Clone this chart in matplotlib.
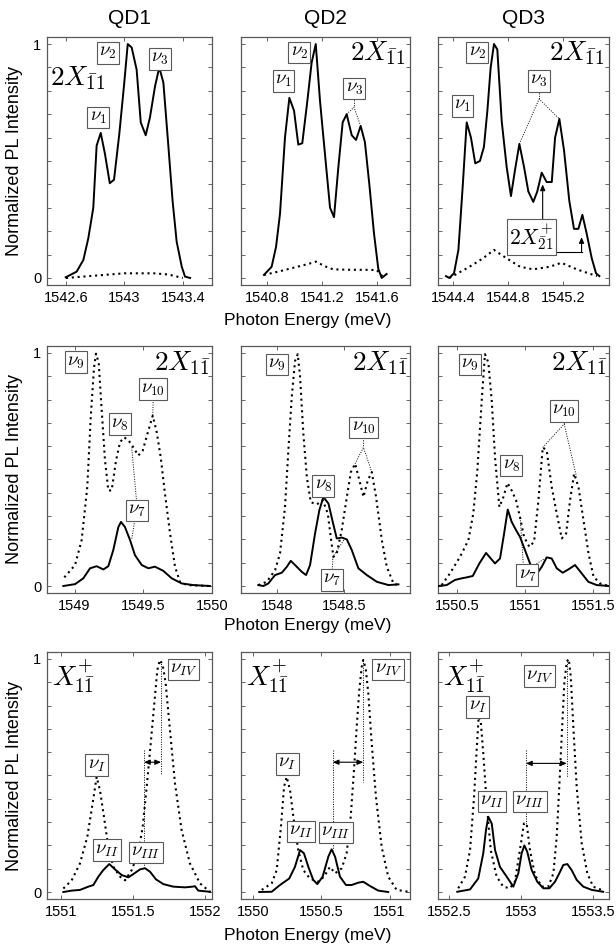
import matplotlib
matplotlib.use('Agg')
import matplotlib.pyplot as plt
import numpy as np

plt.rcParams['font.family'] = ['Liberation Sans', 'DejaVu Sans']
plt.rcParams['mathtext.fontset'] = 'cm'

# ---------------- data ----------------
# row 1 : 2X_{-1 1}
r1c1_e = [1542.598, 1542.673, 1542.719, 1542.753, 1542.787, 1542.81, 1542.838, 1542.867, 1542.90,
          1542.929, 1542.965, 1542.997, 1543.023, 1543.05, 1543.084, 1543.112, 1543.146, 1543.175,
          1543.21, 1543.239, 1543.267, 1543.30, 1543.33, 1543.358, 1543.393, 1543.415, 1543.45]
r1c1_sol = [0.003, 0.027, 0.077, 0.17, 0.30, 0.566, 0.62, 0.53, 0.405, 0.42, 0.615, 0.82, 1.0, 0.985,
            0.89, 0.665, 0.61, 0.686, 0.82, 0.90, 0.835, 0.573, 0.33, 0.155, 0.048, 0.006, 0.0]
r1c1_de = [1542.6, 1542.7, 1542.8, 1542.9, 1543.0, 1543.1, 1543.2, 1543.3, 1543.4]
r1c1_dot = [0.0, 0.005, 0.01, 0.015, 0.02, 0.02, 0.02, 0.015, 0.0]

r1c2_e = [1540.777, 1540.833, 1540.865, 1540.894, 1540.93, 1540.962, 1540.996, 1541.027, 1541.056,
          1541.093, 1541.124, 1541.154, 1541.185, 1541.221, 1541.258, 1541.287, 1541.318, 1541.35,
          1541.379, 1541.416, 1541.447, 1541.481, 1541.512, 1541.544, 1541.578, 1541.609, 1541.634,
          1541.67]
r1c2_sol = [0.013, 0.048, 0.133, 0.275, 0.60, 0.77, 0.715, 0.57, 0.576, 0.757, 0.92, 1.0, 0.757, 0.53,
            0.30, 0.26, 0.47, 0.665, 0.70, 0.61, 0.59, 0.65, 0.58, 0.40, 0.19, 0.04, 0.0, 0.017]
r1c2_de = [1540.777, 1540.9, 1541.0, 1541.1, 1541.156, 1541.22, 1541.28, 1541.4, 1541.5, 1541.598, 1541.65]
r1c2_dot = [0.013, 0.03, 0.045, 0.06, 0.07, 0.05, 0.037, 0.035, 0.035, 0.034, 0.0]

r1c3_e = [1544.348, 1544.372, 1544.406, 1544.438, 1544.469, 1544.498, 1544.529, 1544.56, 1544.594,
          1544.623, 1544.648, 1544.672, 1544.696, 1544.72, 1544.752, 1544.788, 1544.819, 1544.848,
          1544.88, 1544.914, 1544.945, 1544.981, 1545.01, 1545.042, 1545.078, 1545.115, 1545.139,
          1545.17, 1545.204, 1545.242, 1545.276, 1545.308, 1545.337, 1545.368, 1545.405, 1545.436,
          1545.46]
r1c3_sol = [0.008, 0.0, 0.02, 0.12, 0.39, 0.665, 0.60, 0.49, 0.50, 0.56, 0.715, 0.90, 1.0, 0.977,
            0.67, 0.474, 0.35, 0.46, 0.573, 0.474, 0.37, 0.325, 0.37, 0.45, 0.41, 0.41, 0.60, 0.68,
            0.545, 0.33, 0.21, 0.21, 0.27, 0.19, 0.084, 0.02, 0.008]
r1c3_de = [1544.372, 1544.519, 1544.616, 1544.696, 1544.788, 1544.885, 1544.981, 1545.1, 1545.185,
           1545.296, 1545.442]
r1c3_dot = [0.0, 0.048, 0.084, 0.12, 0.084, 0.048, 0.037, 0.048, 0.065, 0.037, 0.008]

# row 2 : 2X_{1 -1}
r2c1_e = [1548.919, 1549.004, 1549.064, 1549.113, 1549.161, 1549.21, 1549.246, 1549.282, 1549.319,
          1549.338, 1549.367, 1549.404, 1549.44, 1549.489, 1549.537, 1549.585, 1549.646, 1549.707,
          1549.78, 1549.864, 1549.985]
r2c1_sol = [0.0, 0.008, 0.033, 0.076, 0.085, 0.071, 0.085, 0.154, 0.253, 0.275, 0.253, 0.197, 0.132,
            0.09, 0.076, 0.083, 0.065, 0.033, 0.011, 0.004, 0.0]
r2c1_de = [1548.926, 1549.004, 1549.052, 1549.093, 1549.118, 1549.142, 1549.156, 1549.176, 1549.198,
           1549.222, 1549.246, 1549.27, 1549.302, 1549.331, 1549.36, 1549.391, 1549.428, 1549.464,
           1549.496, 1549.53, 1549.569, 1549.598, 1549.627, 1549.658, 1549.695, 1549.731, 1549.767,
           1549.816, 1549.985]
r2c1_dot = [0.037, 0.09, 0.197, 0.425, 0.724, 0.937, 0.997, 0.959, 0.752, 0.538, 0.41, 0.41, 0.538,
            0.617, 0.638, 0.627, 0.595, 0.56, 0.581, 0.652, 0.731, 0.66, 0.553, 0.396, 0.225, 0.083,
            0.018, 0.004, 0.0]

r2c2_e = [1547.859, 1547.896, 1547.934, 1547.984, 1548.034, 1548.071, 1548.101, 1548.133, 1548.183,
          1548.215, 1548.245, 1548.282, 1548.314, 1548.344, 1548.382, 1548.414, 1548.444, 1548.481,
          1548.519, 1548.556, 1548.605, 1548.668, 1548.743, 1548.83, 1548.904]
r2c2_sol = [0.004, 0.0, 0.011, 0.047, 0.057, 0.082, 0.108, 0.09, 0.061, 0.047, 0.09, 0.225, 0.325,
            0.382, 0.354, 0.275, 0.204, 0.208, 0.2, 0.154, 0.076, 0.047, 0.018, 0.004, 0.007]
r2c2_de = [1547.859, 1547.922, 1547.984, 1548.021, 1548.058, 1548.083, 1548.108, 1548.133, 1548.153,
           1548.17, 1548.195, 1548.221, 1548.25, 1548.295, 1548.34, 1548.377, 1548.402, 1548.419,
           1548.444, 1548.481, 1548.519, 1548.549, 1548.581, 1548.613, 1548.643, 1548.675, 1548.705,
           1548.737, 1548.78, 1548.817, 1548.867, 1548.904]
r2c2_dot = [0.004, 0.018, 0.068, 0.14, 0.339, 0.58, 0.809, 0.966, 0.995, 0.902, 0.652, 0.467, 0.36,
            0.35, 0.368, 0.311, 0.197, 0.125, 0.14, 0.24, 0.382, 0.489, 0.525, 0.453, 0.382, 0.453,
            0.489, 0.382, 0.197, 0.082, 0.011, 0.004]

r2c3_e = [1550.362, 1550.424, 1550.485, 1550.535, 1550.571, 1550.616, 1550.665, 1550.714, 1550.749,
          1550.78, 1550.817, 1550.847, 1550.874, 1550.903, 1550.935, 1550.964, 1551.001, 1551.038,
          1551.082, 1551.124, 1551.161, 1551.198, 1551.235, 1551.279, 1551.32, 1551.37, 1551.419,
          1551.468, 1551.53, 1551.62]
r2c3_sol = [0.0, 0.004, 0.026, 0.033, 0.037, 0.043, 0.097, 0.142, 0.118, 0.097, 0.118, 0.225, 0.328,
            0.275, 0.24, 0.211, 0.154, 0.097, 0.047, 0.082, 0.123, 0.118, 0.076, 0.057, 0.071, 0.09,
            0.054, 0.018, 0.004, 0.0]
r2c3_de = [1550.387, 1550.448, 1550.522, 1550.584, 1550.62, 1550.65, 1550.682, 1550.706, 1550.731,
           1550.756, 1550.78, 1550.812, 1550.842, 1550.872, 1550.903, 1550.935, 1550.964, 1550.994,
           1551.033, 1551.068, 1551.1, 1551.132, 1551.161, 1551.198, 1551.235, 1551.272, 1551.304,
           1551.333, 1551.363, 1551.395, 1551.432, 1551.469, 1551.506, 1551.554, 1551.62]
r2c3_dot = [0.004, 0.054, 0.125, 0.197, 0.311, 0.496, 0.795, 0.995, 0.959, 0.795, 0.553, 0.339, 0.382,
            0.442, 0.41, 0.368, 0.296, 0.211, 0.168, 0.19, 0.368, 0.595, 0.581, 0.425, 0.311, 0.204,
            0.225, 0.368, 0.482, 0.425, 0.282, 0.14, 0.04, 0.011, 0.0]

# row 3 : X+_{1 -1}
r3c1_e = [1551.014, 1551.072, 1551.13, 1551.188, 1551.223, 1551.258, 1551.292, 1551.334, 1551.374,
          1551.42, 1551.467, 1551.502, 1551.548, 1551.583, 1551.618, 1551.66, 1551.711, 1551.78,
          1551.862, 1551.915, 1551.931, 1551.954, 1552.036]
r3c1_sol = [0.0, 0.006, 0.009, 0.023, 0.03, 0.066, 0.094, 0.12, 0.097, 0.073, 0.063, 0.077, 0.097,
            0.102, 0.087, 0.054, 0.034, 0.023, 0.02, 0.023, 0.025, 0.006, 0.001]
r3c1_de = [1551.014, 1551.072, 1551.13, 1551.181, 1551.218, 1551.246, 1551.269, 1551.297, 1551.327,
           1551.362, 1551.409, 1551.444, 1551.49, 1551.536, 1551.567, 1551.595, 1551.623, 1551.648,
           1551.669, 1551.687, 1551.706, 1551.727, 1551.757, 1551.792, 1551.838, 1551.896, 1551.966,
           1552.036]
r3c1_dot = [0.015, 0.05, 0.123, 0.237, 0.38, 0.494, 0.437, 0.323, 0.194, 0.109, 0.066, 0.05, 0.094,
            0.166, 0.28, 0.452, 0.638, 0.81, 0.953, 0.996, 0.975, 0.896, 0.695, 0.466, 0.266, 0.123,
            0.037, 0.001]

r3c2_e = [1550.044, 1550.135, 1550.196, 1550.264, 1550.306, 1550.343, 1550.372, 1550.404, 1550.44,
          1550.47, 1550.509, 1550.551, 1550.575, 1550.6, 1550.636, 1550.68, 1550.722, 1550.77,
          1550.807, 1550.856, 1550.917, 1550.99]
r3c2_sol = [0.0, 0.001, 0.03, 0.058, 0.108, 0.18, 0.166, 0.108, 0.052, 0.034, 0.066, 0.152, 0.183,
            0.152, 0.066, 0.03, 0.03, 0.04, 0.044, 0.026, 0.006, 0.0]
r3c2_de = [1550.062, 1550.135, 1550.172, 1550.203, 1550.226, 1550.245, 1550.27, 1550.294, 1550.33,
           1550.367, 1550.416, 1550.477, 1550.519, 1550.563, 1550.6, 1550.649, 1550.685, 1550.715,
           1550.739, 1550.759, 1550.778, 1550.796, 1550.807, 1550.825, 1550.844, 1550.869, 1550.9,
           1550.942, 1550.99, 1551.052, 1551.15]
r3c2_dot = [0.009, 0.037, 0.094, 0.28, 0.452, 0.494, 0.437, 0.323, 0.18, 0.094, 0.058, 0.044, 0.066,
            0.108, 0.08, 0.102, 0.166, 0.323, 0.523, 0.709, 0.867, 0.967, 0.996, 0.96, 0.853, 0.638,
            0.409, 0.194, 0.066, 0.009, 0.0]

r3c3_e = [1552.554, 1552.643, 1552.7, 1552.735, 1552.754, 1552.77, 1552.794, 1552.817, 1552.851,
          1552.898, 1552.944, 1552.979, 1553.002, 1553.021, 1553.041, 1553.072, 1553.111, 1553.153,
          1553.195, 1553.234, 1553.264, 1553.292, 1553.32, 1553.35, 1553.385, 1553.431, 1553.49,
          1553.57]
r3c3_sol = [0.001, 0.011, 0.058, 0.166, 0.266, 0.323, 0.294, 0.18, 0.108, 0.066, 0.023, 0.08, 0.166,
            0.2, 0.173, 0.094, 0.044, 0.016, 0.016, 0.044, 0.08, 0.116, 0.12, 0.094, 0.052, 0.023,
            0.009, 0.001]
r3c3_de = [1552.561, 1552.608, 1552.643, 1552.671, 1552.689, 1552.703, 1552.717, 1552.735, 1552.759,
           1552.787, 1552.828, 1552.874, 1552.92, 1552.955, 1552.99, 1553.018, 1553.037, 1553.06,
           1553.095, 1553.142, 1553.188, 1553.223, 1553.246, 1553.264, 1553.283, 1553.299, 1553.316,
           1553.33, 1553.344, 1553.362, 1553.385, 1553.42, 1553.459, 1553.5, 1553.57]
r3c3_dot = [0.016, 0.066, 0.18, 0.409, 0.609, 0.752, 0.738, 0.595, 0.38, 0.18, 0.066, 0.023, 0.016,
            0.044, 0.18, 0.294, 0.294, 0.18, 0.073, 0.023, 0.023, 0.08, 0.237, 0.452, 0.695, 0.896,
            0.989, 1.0, 0.924, 0.709, 0.452, 0.209, 0.08, 0.023, 0.006]

col_titles = ['QD1', 'QD2', 'QD3']
row_labels = [r'$2X_{\bar{1}1}$', r'$2X_{1\bar{1}}$', r'$X^{+}_{1\bar{1}}$']
xlims = [[(1542.47, 1543.60), (1540.61, 1541.84), (1544.29, 1545.53)],
         [(1548.80, 1550.00), (1547.73, 1548.99), (1550.36, 1551.62)],
         [(1550.90, 1552.05), (1549.91, 1551.15), (1552.42, 1553.61)]]
xticks = [[[1542.6, 1543.0, 1543.4], [1540.8, 1541.2, 1541.6], [1544.4, 1544.8, 1545.2]],
          [[1549.0, 1549.5, 1550.0], [1548.0, 1548.5], [1550.5, 1551.0, 1551.5]],
          [[1551.0, 1551.5, 1552.0], [1550.0, 1550.5, 1551.0], [1552.5, 1553.0, 1553.5]]]
curves = [[(r1c1_e, r1c1_sol, r1c1_de, r1c1_dot), (r1c2_e, r1c2_sol, r1c2_de, r1c2_dot),
           (r1c3_e, r1c3_sol, r1c3_de, r1c3_dot)],
          [(r2c1_e, r2c1_sol, r2c1_de, r2c1_dot), (r2c2_e, r2c2_sol, r2c2_de, r2c2_dot),
           (r2c3_e, r2c3_sol, r2c3_de, r2c3_dot)],
          [(r3c1_e, r3c1_sol, r3c1_de, r3c1_dot), (r3c2_e, r3c2_sol, r3c2_de, r3c2_dot),
           (r3c3_e, r3c3_sol, r3c3_de, r3c3_dot)]]

# ---------------- layout (pixel boxes) ----------------
W, H = 616.0, 946.0
col_px = [(47, 212), (241, 410), (438, 609)]
row_px = [(37, 285), (346, 593), (652, 899)]

fig = plt.figure(figsize=(6.16, 9.46), dpi=100)

axes = []
for r in range(3):
    row_axes = []
    for c in range(3):
        x0, x1 = col_px[c]
        y0, y1 = row_px[r]
        ax = fig.add_axes([x0 / W, (H - y1) / H, (x1 - x0) / W, (y1 - y0) / H])
        e, sol, de, dot = curves[r][c]
        ax.plot(de, dot, color='black', lw=1.5, ls=(0, (1, 1.8)), zorder=2)
        ax.plot(e, sol, color='black', lw=1.4, zorder=3)
        ax.set_xlim(xlims[r][c])
        ax.set_ylim(-0.03, 1.03)
        ax.set_xticks(xticks[r][c])
        ax.set_xticklabels(['%g' % t for t in xticks[r][c]])
        yt = np.round(np.arange(0, 1.01, 0.1), 1)
        ax.set_yticks(yt)
        ax.set_yticklabels(['0' if v == 0 else ('1' if v == 1 else '') for v in yt])
        ax.tick_params(direction='in', top=True, right=True, length=3, width=0.6,
                       labelsize=10.5, pad=4, color='0.3')
        if c > 0:
            ax.set_yticklabels([])
        for sp in ax.spines.values():
            sp.set_color('0.35')
            sp.set_linewidth(0.9)
        row_axes.append(ax)
    axes.append(row_axes)

# titles, axis labels
for c in range(3):
    fig.text((col_px[c][0] + col_px[c][1]) / 2 / W, 1 - 18 / H, col_titles[c],
             ha='center', va='center', fontsize=15)
for r, yc in enumerate([320, 625, 935]):
    fig.text(308 / W, 1 - yc / H, 'Photon Energy (meV)', ha='center', va='center', fontsize=12.5)
    fig.text(15 / W, 1 - (row_px[r][0] + row_px[r][1]) / 2 / H, 'Normalized PL Intensity',
             ha='center', va='center', rotation=90, fontsize=13)

# big state labels
big = [[(0.02, 0.835, 'left'), (0.975, 0.935, 'right'), (0.975, 0.935, 'right')],
       [(0.99, 0.93, 'right'), (0.99, 0.93, 'right'), (0.99, 0.93, 'right')],
       [(0.03, 0.9, 'left'), (0.03, 0.9, 'left'), (0.03, 0.9, 'left')]]
for r in range(3):
    for c in range(3):
        bx, by, ha = big[r][c]
        axes[r][c].text(bx, by, row_labels[r], transform=axes[r][c].transAxes,
                        ha=ha, va='center', fontsize=19.5, zorder=6)

box = dict(boxstyle='square,pad=0.12', fc='white', ec='0.35', lw=0.8)


def nu(ax, x, y, s, size=13.5):
    ax.text(x, y, s, ha='center', va='center', fontsize=size, bbox=box, zorder=6)


def guide(ax, xs, ys):
    ax.plot(xs, ys, color='black', lw=0.7, ls=(0, (1, 1.5)), zorder=4)


def arrow(ax, x0, y0, x1, y1, style='-|>'):
    ax.annotate('', xy=(x1, y1), xytext=(x0, y0),
                arrowprops=dict(arrowstyle=style + ',head_length=0.35,head_width=0.15',
                                color='black', lw=0.8, shrinkA=0, shrinkB=0), zorder=5)


# row 1
ax = axes[0][0]
nu(ax, 1542.819, 0.685, r'$\nu_1$')
nu(ax, 1542.888, 0.962, r'$\nu_2$')
nu(ax, 1543.244, 0.936, r'$\nu_3$')

ax = axes[0][1]
nu(ax, 1540.918, 0.843, r'$\nu_1$')
nu(ax, 1541.034, 0.963, r'$\nu_2$')
guide(ax, [1541.432, 1541.432], [0.78, 0.73])
guide(ax, [1541.379, 1541.432, 1541.481], [0.70, 0.73, 0.65])
nu(ax, 1541.435, 0.81, r'$\nu_3$')

ax = axes[0][2]
nu(ax, 1544.466, 0.736, r'$\nu_1$')
nu(ax, 1544.575, 0.963, r'$\nu_2$')
guide(ax, [1545.023, 1545.023], [0.81, 0.765])
guide(ax, [1544.88, 1545.023, 1545.17], [0.573, 0.765, 0.68])
nu(ax, 1545.023, 0.843, r'$\nu_3$')
arrow(ax, 1545.049, 0.25, 1545.049, 0.40)
ax.plot([1545.12, 1545.331], [0.109, 0.109], color='black', lw=0.8, zorder=5)
arrow(ax, 1545.331, 0.109, 1545.331, 0.175)
nu(ax, 1544.968, 0.176, r'$2X^{+}_{\bar{2}1}$', 15.5)

# row 2
ax = axes[1][0]
nu(ax, 1549.009, 0.961, r'$\nu_9$')
guide(ax, [1549.573, 1549.569], [0.81, 0.731])
nu(ax, 1549.573, 0.845, r'$\nu_{10}$')
nu(ax, 1549.331, 0.695, r'$\nu_8$')
guide(ax, [1549.416, 1549.452], [0.595, 0.36])
guide(ax, [1549.44, 1549.416], [0.29, 0.2])
nu(ax, 1549.452, 0.325, r'$\nu_7$')

ax = axes[1][1]
nu(ax, 1547.996, 0.95, r'$\nu_9$')
nu(ax, 1548.344, 0.43, r'$\nu_8$')
guide(ax, [1548.643, 1548.643], [0.65, 0.595])
guide(ax, [1548.581, 1548.643, 1548.705], [0.525, 0.595, 0.489])
nu(ax, 1548.643, 0.68, r'$\nu_{10}$')
guide(ax, [1548.41, 1548.415, 1548.5], [0.06, 0.125, 0.2])
nu(ax, 1548.407, 0.026, r'$\nu_7$')

ax = axes[1][2]
nu(ax, 1550.594, 0.95, r'$\nu_9$')
nu(ax, 1550.9, 0.517, r'$\nu_8$')
guide(ax, [1551.29, 1551.29], [0.72, 0.695])
guide(ax, [1551.132, 1551.29, 1551.38], [0.595, 0.695, 0.47])
nu(ax, 1551.29, 0.752, r'$\nu_{10}$')
guide(ax, [1550.99, 1550.965], [0.08, 0.30])
guide(ax, [1551.04, 1551.14], [0.08, 0.115])
nu(ax, 1551.018, 0.047, r'$\nu_7$')

# row 3
ax = axes[2][0]
guide(ax, [1551.576, 1551.576], [0.609, 0.108])
guide(ax, [1551.695, 1551.695], [0.99, 0.50])
arrow(ax, 1551.576, 0.557, 1551.695, 0.557, '<|-|>')
nu(ax, 1551.246, 0.545, r'$\nu_{I}$')
nu(ax, 1551.32, 0.18, r'$\nu_{II}$')
nu(ax, 1551.588, 0.17, r'$\nu_{III}$')
nu(ax, 1551.85, 0.955, r'$\nu_{IV}$')

ax = axes[2][1]
guide(ax, [1550.583, 1550.583], [0.61, 0.18])
guide(ax, [1550.807, 1550.807], [0.996, 0.47])
arrow(ax, 1550.583, 0.557, 1550.807, 0.557, '<|-|>')
nu(ax, 1550.25, 0.55, r'$\nu_{I}$')
nu(ax, 1550.348, 0.26, r'$\nu_{II}$')
nu(ax, 1550.607, 0.255, r'$\nu_{III}$')
nu(ax, 1550.99, 0.955, r'$\nu_{IV}$')

ax = axes[2][2]
guide(ax, [1553.032, 1553.032], [0.609, 0.29])
guide(ax, [1553.316, 1553.316], [0.99, 0.495])
arrow(ax, 1553.032, 0.552, 1553.316, 0.552, '<|-|>')
nu(ax, 1552.696, 0.795, r'$\nu_{I}$')
nu(ax, 1552.794, 0.388, r'$\nu_{II}$')
nu(ax, 1553.06, 0.388, r'$\nu_{III}$')
nu(ax, 1553.125, 0.927, r'$\nu_{IV}$')

fig.savefig('out.png', dpi=100)
